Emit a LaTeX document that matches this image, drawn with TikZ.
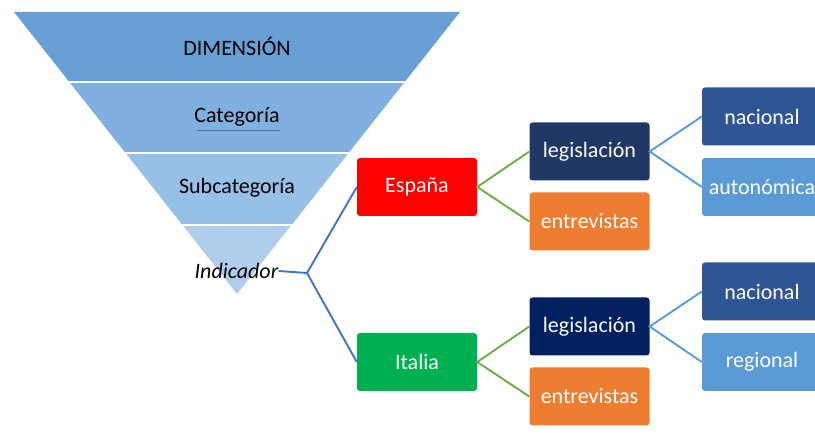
\documentclass[tikz,border=0pt]{standalone}
\usepackage{fontspec}
\setmainfont{Carlito}
\definecolor{fA}{RGB}{104,160,213}
\definecolor{fB}{RGB}{127,176,224}
\definecolor{fC}{RGB}{151,192,231}
\definecolor{fD}{RGB}{176,206,236}
\definecolor{esp}{RGB}{255,0,0}
\definecolor{ita}{RGB}{0,176,80}
\definecolor{legA}{RGB}{31,56,100}
\definecolor{legB}{RGB}{0,32,96}
\definecolor{entr}{RGB}{237,125,49}
\definecolor{nac}{RGB}{47,85,151}
\definecolor{aut}{RGB}{91,155,213}
\definecolor{conA}{RGB}{68,114,196}
\definecolor{conG}{RGB}{112,173,71}
\definecolor{conL}{RGB}{91,155,213}
\definecolor{uline}{RGB}{74,111,160}
\tikzset{
  boxnode/.style={rounded corners=3pt, minimum width=120pt, minimum height=58pt, inner sep=0pt, text=white, font=\fontsize{22}{26}\selectfont},
  funtext/.style={inner sep=0pt, text=black, font=\fontsize{22}{26}\selectfont},
  conn/.style={line width=1.9pt}
}
\begin{document}
\begin{tikzpicture}[x=1pt,y=-1pt]
\useasboundingbox (0,0) rectangle (815,438);
% funnel
\begin{scope}
  \clip (14,12) -- (460,12) -- (237,294) -- cycle;
  \fill[fA] (0,0) rectangle (500,82);
  \fill[fB] (0,82) rectangle (500,153);
  \fill[fC] (0,153) rectangle (500,225);
  \fill[fD] (0,225) rectangle (500,300);
  \draw[white, line width=2.5pt] (0,82) -- (500,82) (0,153) -- (500,153) (0,225) -- (500,225);
\end{scope}
\node[funtext] (dim) at (237,46) {DIMENSIÓN};
\node[funtext] (cat) at (237,117) {Categoría};
\draw[uline, line width=1pt] (197,131) -- (280,131);
\node[funtext] (sub) at (237,188) {Subcategoría};
\node[funtext, font=\fontsize{22}{26}\selectfont\itshape] (ind) at (236.5,271) {Indicador};
% boxes
\node[boxnode, fill=esp] (es) at (417,187) {España};
\node[boxnode, fill=ita] (it) at (417,362) {Italia};
\node[boxnode, fill=legA] (legA) at (589.5,151.5) {legislación};
\node[boxnode, fill=entr] (entA) at (589.5,221.5) {entrevistas};
\node[boxnode, fill=legB] (legB) at (589.5,326.5) {legislación};
\node[boxnode, fill=entr] (entB) at (589.5,396.5) {entrevistas};
\node[boxnode, fill=nac] (nacA) at (762,116.5) {nacional};
\node[boxnode, fill=aut] (autA) at (762,187) {autonómica};
\node[boxnode, fill=nac] (nacB) at (762,291.5) {nacional};
\node[boxnode, fill=aut] (regB) at (762,362) {regional};
% connectors
\coordinate (fork) at (307,273);
\draw[conn, conA] (ind.east) -- (fork) -- (es.west);
\draw[conn, conA] (fork) -- (it.west);
\draw[conn, conG] (legA.west) -- (es.east) -- (entA.west);
\draw[conn, conG] (legB.west) -- (it.east) -- (entB.west);
\draw[conn, conL] (nacA.west) -- (legA.east) -- (autA.west);
\draw[conn, conL] (nacB.west) -- (legB.east) -- (regB.west);
\end{tikzpicture}
\end{document}
